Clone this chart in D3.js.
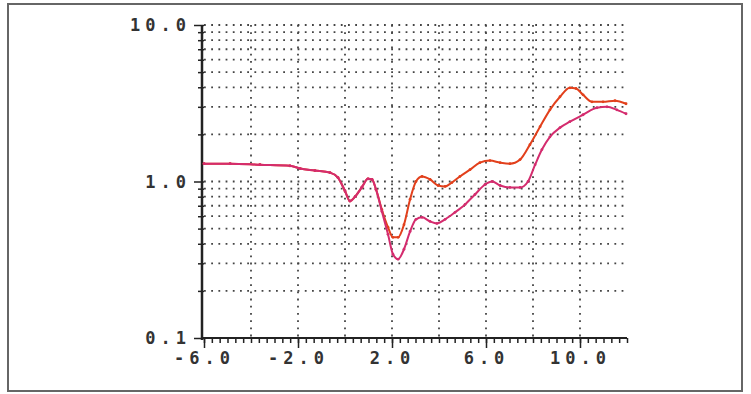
<!DOCTYPE html>
<html>
<head>
<meta charset="utf-8">
<script src="https://cdn.jsdelivr.net/npm/d3@7"></script>
<style>
  body { margin: 0; background: #fff; }
  .axis text {
    font-family: 'DejaVu Sans Mono', 'Liberation Mono', monospace;
    font-weight: bold;
    font-size: 17px;
    letter-spacing: 5px;
    fill: #333;
  }
  .grid line {
    stroke: #444;
    stroke-width: 1.8;
    stroke-dasharray: 1.8 5.4;
  }
</style>
</head>
<body>
<svg id="chart" width="751" height="394"></svg>
<script>
const xTicks = [-6, -2, 2, 6, 10];
const xTickLabels = ['-6.0', '-2.0', '2.0', '6.0', '10.0'];
const yTicks = [0.1, 1, 10];
const yTickLabels = ['0.1', '1.0', '10.0'];

// shared part of both curves
const commonX = [-6.0, -4.89, -3.62, -2.34, -1.91, -1.28, -0.64, -0.30, 0.0, 0.21, 0.43, 0.72, 0.98, 1.15, 1.32];
const commonY = [1.30, 1.30, 1.28, 1.26, 1.21, 1.175, 1.14, 1.06, 0.87, 0.75, 0.80, 0.92, 1.04, 1.03, 0.89];

const redX = [1.57, 1.83, 2.04, 2.26, 2.51, 2.77, 3.02, 3.28, 3.62, 3.96, 4.26, 4.55, 4.89, 5.32, 5.74, 6.17, 6.60, 7.02, 7.45, 7.87, 8.30, 8.72, 9.15, 9.57, 9.83, 10.13, 10.51, 10.98, 11.49, 11.96];
const redY = [0.66, 0.51, 0.44, 0.44, 0.53, 0.77, 1.0, 1.076, 1.03, 0.943, 0.93, 0.985, 1.076, 1.19, 1.32, 1.36, 1.32, 1.30, 1.38, 1.72, 2.24, 2.87, 3.48, 3.97, 3.93, 3.58, 3.23, 3.23, 3.28, 3.14];

const pinkX = [1.57, 1.83, 2.04, 2.26, 2.51, 2.77, 3.02, 3.28, 3.62, 3.91, 4.26, 4.68, 5.11, 5.53, 5.96, 6.26, 6.60, 7.02, 7.45, 7.79, 8.09, 8.38, 8.72, 9.15, 9.57, 10.13, 10.72, 11.15, 11.57, 11.96];
const pinkY = [0.644, 0.46, 0.343, 0.319, 0.369, 0.48, 0.573, 0.59, 0.556, 0.54, 0.573, 0.635, 0.714, 0.826, 0.957, 1.0, 0.943, 0.916, 0.916, 1.0, 1.28, 1.60, 1.93, 2.21, 2.41, 2.67, 2.96, 3.0, 2.87, 2.71];

const svg = d3.select('#chart');
const margin = { left: 204, top: 25, right: 124, bottom: 56 };
const width = 751 - margin.left - margin.right;
const height = 394 - margin.top - margin.bottom;

// outer frame
svg.append('rect')
  .attr('x', 8).attr('y', 4)
  .attr('width', 734).attr('height', 387)
  .attr('fill', 'none')
  .attr('stroke', '#666')
  .attr('stroke-width', 2);

const root = svg.append('g').attr('transform', `translate(${margin.left}, ${margin.top})`);

const x = d3.scaleLinear().domain([-6, 12]).range([0, width]);
const y = d3.scaleLog().domain([0.1, 10]).range([height, 0]);

// log minor values for grid + ticks
const yMinor = [];
[0.1, 1].forEach(d => d3.range(2, 10).forEach(k => yMinor.push(d * k)));
const xMinor = d3.range(-6, 12.01, 1 / 3);

// grid
root.append('g')
  .attr('class', 'grid')
  .selectAll('line')
  .data(yMinor.concat([1, 10]))
  .join('line')
  .attr('x1', 0)
  .attr('x2', width)
  .attr('y1', d => y(d))
  .attr('y2', d => y(d));

root.append('g')
  .attr('class', 'grid')
  .selectAll('line')
  .data(d3.range(-4, 11, 2))
  .join('line')
  .attr('x1', d => x(d))
  .attr('x2', d => x(d))
  .attr('y1', 0)
  .attr('y2', height);

// minor ticks
root.append('g')
  .attr('transform', `translate(0, ${height})`)
  .call(d3.axisBottom(x).tickValues(xMinor).tickSize(5).tickFormat(''))
  .call(g => g.select('.domain').remove())
  .call(g => g.selectAll('line').attr('stroke', '#222').attr('stroke-width', 1.5));

root.append('g')
  .call(d3.axisLeft(y).tickValues(yMinor).tickSize(6).tickFormat(''))
  .call(g => g.select('.domain').remove())
  .call(g => g.selectAll('line').attr('stroke', '#222').attr('stroke-width', 1.5));

// major axes
root.append('g')
  .attr('class', 'axis')
  .attr('transform', `translate(0, ${height})`)
  .call(d3.axisBottom(x).tickValues(xTicks).tickSize(10).tickPadding(4).tickFormat((d, i) => xTickLabels[i]))
  .call(g => g.select('.domain').attr('stroke', '#222').attr('stroke-width', 2).attr('d', `M-2,0H${width}`))
  .call(g => g.selectAll('line').attr('stroke', '#222').attr('stroke-width', 1.5));

root.append('g')
  .attr('class', 'axis')
  .call(d3.axisLeft(y).tickValues(yTicks).tickSize(10).tickPadding(3).tickFormat((d, i) => yTickLabels[i]))
  .call(g => g.select('.domain').attr('stroke', '#222').attr('stroke-width', 2.5).attr('d', `M-2,0V${height + 2}`))
  .call(g => g.selectAll('line').attr('stroke', '#222').attr('stroke-width', 1.5))
  .call(g => g.selectAll('text').attr('dy', '0.35em'));

const line = d3.line()
  .x(d => x(d[0]))
  .y(d => y(d[1]))
  .curve(d3.curveMonotoneX);

const redData = d3.zip(commonX.concat(redX), commonY.concat(redY));
const pinkData = d3.zip(commonX.concat(pinkX), commonY.concat(pinkY));

const series = [
  { data: redData, color: '#e2401c' },
  { data: pinkData, color: '#d42c6e' },
];

series.forEach(s => {
  root.append('path')
    .datum(s.data)
    .attr('fill', 'none')
    .attr('stroke', s.color)
    .attr('stroke-width', 2)
    .attr('stroke-linejoin', 'round')
    .attr('d', line);

  root.append('g')
    .selectAll('circle')
    .data(s.data)
    .join('circle')
    .attr('cx', d => x(d[0]))
    .attr('cy', d => y(d[1]))
    .attr('r', 1.4)
    .attr('fill', s.color);
});
</script>
</body>
</html>
